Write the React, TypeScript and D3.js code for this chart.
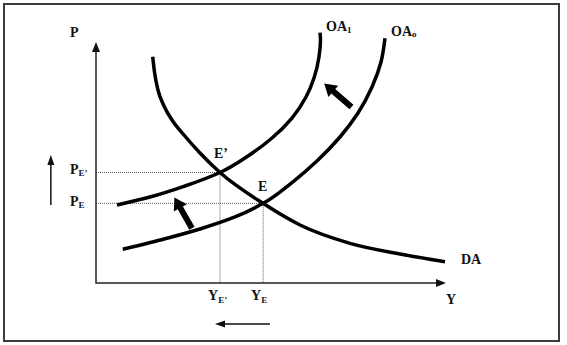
import React from "react";
import * as d3 from "d3";

// Data space: Y (output) on x axis, P (price) on y axis, both 0..10
const daCurve: [number, number][] = [
  [1.62, 9.39], [1.671, 8.755], [1.771, 8.008], [1.943, 7.344], [2.171, 6.763], [2.514, 6.141],
  [2.971, 5.394], [3.543, 4.585], [4.771, 3.307], [5.829, 2.407], [7.257, 1.647], [8.686, 1.203],
  [9.971, 0.884],
];
const oa1Curve: [number, number][] = [
  [0.6, 3.237], [1.543, 3.568], [2.543, 4.025], [3.543, 4.585], [4.343, 5.27], [5.029, 6.017],
  [5.6, 6.846], [6.0, 7.718], [6.229, 8.506], [6.371, 9.378], [6.414, 10.08], [6.4, 10.39],
];
const oa0Curve: [number, number][] = [
  [0.763, 1.398], [2.0, 1.846], [2.971, 2.241], [3.971, 2.739], [4.775, 3.307], [5.6, 4.17],
  [6.343, 5.104], [6.971, 6.058], [7.486, 7.054], [7.886, 8.133], [8.143, 9.17], [8.257, 10.154],
];
// equilibria
const eqY = [3.543, 4.775]; // Y_E', Y_E
const eqP = [4.585, 3.307]; // P_E', P_E
// shift arrows [tail, tip]
const shiftArrows: [number, number][][] = [
  [[2.74, 2.27], [2.24, 3.55]],
  [[7.3, 7.3], [6.52, 8.28]],
];
const priceArrow: [number, number][] = [[-1.29, 3.24], [-1.29, 5.31]];
const outputArrow: [number, number][] = [[4.97, -1.7], [3.4, -1.7]];

const W = 567;
const H = 345;
const x = d3.scaleLinear().domain([0, 10]).range([96, 446]);
const y = d3.scaleLinear().domain([0, 10]).range([283, 42]);

const lineX = d3
  .line<[number, number]>()
  .x((d) => x(d[0]))
  .y((d) => y(d[1]))
  .curve(d3.curveMonotoneX);
const lineY = d3
  .line<[number, number]>()
  .x((d) => x(d[0]))
  .y((d) => y(d[1]))
  .curve(d3.curveMonotoneY);

function arrowPath(
  tail: [number, number],
  tip: [number, number],
  shaftW: number,
  headW: number,
  headL: number
) {
  const x0 = x(tail[0]), y0 = y(tail[1]);
  const x1 = x(tip[0]), y1 = y(tip[1]);
  const dx = x1 - x0, dy = y1 - y0;
  const len = Math.hypot(dx, dy);
  const ux = dx / len, uy = dy / len;
  const nx = -uy, ny = ux;
  const bx = x1 - ux * headL, by = y1 - uy * headL;
  const pts = [
    [x0 + (nx * shaftW) / 2, y0 + (ny * shaftW) / 2],
    [bx + (nx * shaftW) / 2, by + (ny * shaftW) / 2],
    [bx + (nx * headW) / 2, by + (ny * headW) / 2],
    [x1, y1],
    [bx - (nx * headW) / 2, by - (ny * headW) / 2],
    [bx - (nx * shaftW) / 2, by - (ny * shaftW) / 2],
    [x0 - (nx * shaftW) / 2, y0 - (ny * shaftW) / 2],
  ];
  return "M" + pts.map((p) => p[0].toFixed(2) + "," + p[1].toFixed(2)).join("L") + "Z";
}

const font = "'Liberation Serif', 'Times New Roman', serif";
const ink = "#111";

export default function App() {
  const [xE1, xE] = eqY;
  const [pE1, pE] = eqP;
  return (
    <svg
      width={W}
      height={H}
      style={{ position: "absolute", left: 0, top: 0, background: "#fff" }}
      fontFamily={font}
      fontWeight="bold"
      fill={ink}
    >
      <rect x={4} y={4} width={555} height={337} fill="#fff" stroke="#3c3c3c" strokeWidth={2} />

      {/* dotted guide lines */}
      <g stroke="#555" strokeWidth={1} strokeDasharray="1,1" fill="none">
        <line x1={x(0)} x2={x(xE1)} y1={y(pE1)} y2={y(pE1)} />
        <line x1={x(0)} x2={x(xE)} y1={y(pE)} y2={y(pE)} />
        <line x1={x(xE1)} x2={x(xE1)} y1={y(pE1)} y2={y(0)} />
        <line x1={x(xE)} x2={x(xE)} y1={y(pE)} y2={y(0)} />
      </g>

      {/* axes */}
      <path
        d={`M${x(0)},${y(10) + 9}L${x(0)},${y(0)}L${x(10) - 9},${y(0)}`}
        fill="none"
        stroke="#222"
        strokeWidth={1.5}
      />
      <path d={`M${x(0)},${y(10)}L${x(0) - 4},${y(10) + 10}L${x(0) + 4},${y(10) + 10}Z`} fill="#111" />
      <path d={`M${x(10)},${y(0)}L${x(10) - 10},${y(0) - 4}L${x(10) - 10},${y(0) + 4}Z`} fill="#111" />

      {/* curves */}
      <g fill="none" stroke="#000" strokeWidth={3.5} strokeLinecap="butt">
        <path d={lineX(daCurve) || ""} />
        <path d={lineY(oa1Curve) || ""} />
        <path d={lineY(oa0Curve) || ""} />
      </g>

      {/* shift arrows */}
      {shiftArrows.map((a, i) => (
        <path key={i} d={arrowPath(a[0], a[1], 6, 15, 12)} fill="#000" />
      ))}
      <path d={arrowPath(priceArrow[0], priceArrow[1], 1.5, 7, 10)} fill="#111" />
      <path d={arrowPath(outputArrow[0], outputArrow[1], 1.5, 7, 10)} fill="#111" />

      {/* labels */}
      <g fontSize={14}>
        <text x={70} y={37}>P</text>
        <text x={446} y={304}>Y</text>
        <text x={326} y={31}>
          OA<tspan fontSize={9} dy={2}>1</tspan>
        </text>
        <text x={391} y={36}>
          OA<tspan fontSize={9} dy={1}>o</tspan>
        </text>
        <text x={461} y={264}>DA</text>
        <text x={214} y={158}>E’</text>
        <text x={258} y={191}>E</text>
        <text x={70} y={174}>
          P<tspan fontSize={9} dy={2}>E’</tspan>
        </text>
        <text x={70} y={206}>
          P<tspan fontSize={9} dy={2}>E</tspan>
        </text>
        <text x={208} y={300}>
          Y<tspan fontSize={9} dy={3}>E’</tspan>
        </text>
        <text x={251} y={300}>
          Y<tspan fontSize={9} dy={3}>E</tspan>
        </text>
      </g>
    </svg>
  );
}
